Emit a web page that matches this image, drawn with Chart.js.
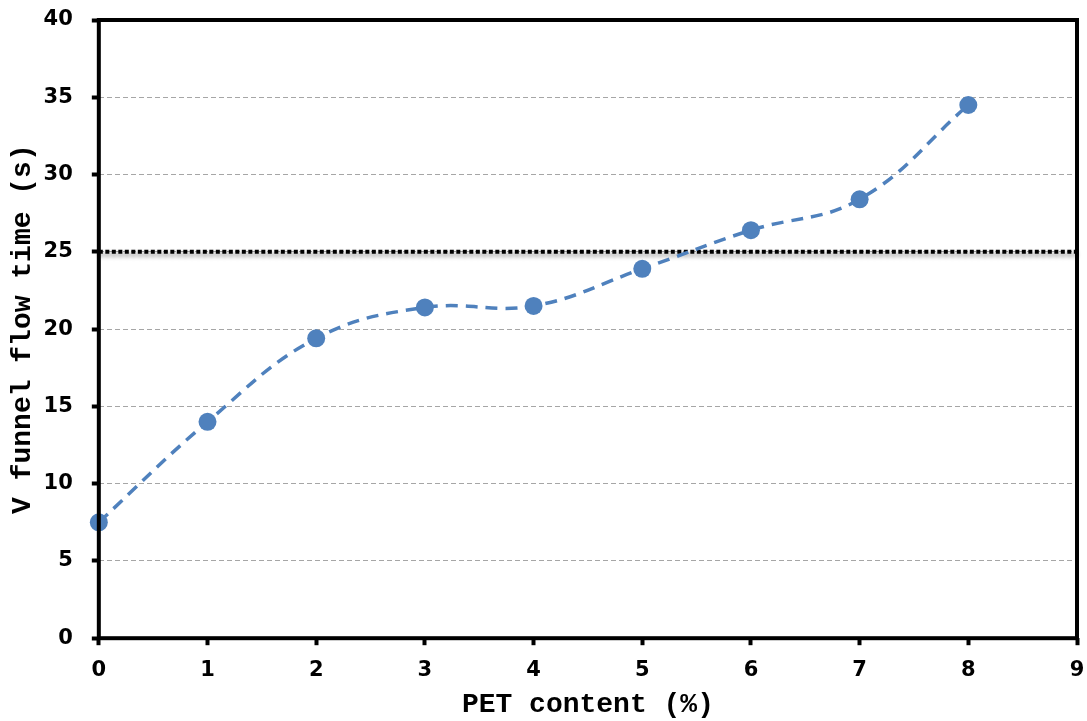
<!DOCTYPE html>
<html>
<head>
<meta charset="utf-8">
<script src="https://cdn.jsdelivr.net/npm/chart.js@4.4.1/dist/chart.umd.min.js"></script>
<style>
html,body{margin:0;padding:0;background:#fff;}
#wrap{width:1087px;height:721px;}
</style>
</head>
<body>
<div id="wrap"><canvas id="c" width="1087" height="721"></canvas></div>
<script>
const petContent = [0, 1, 2, 3, 4, 5, 6, 7, 8];
const flowTime = [7.5, 14.0, 19.4, 21.4, 21.5, 23.9, 26.4, 28.4, 34.5];
const limitX = [0, 9];
const limitY = [25, 25];
const xTitle = 'PET content (%)';
const yTitle = 'V funnel flow time (s)';

const frame = {
  id: 'frame',
  beforeDatasetDraw(chart, args) {
    if (args.index === 1) {
      const ctx = chart.ctx;
      ctx.save();
      ctx.shadowColor = 'rgba(0,0,0,0.45)';
      ctx.shadowBlur = 4;
      ctx.shadowOffsetY = 3;
    }
  },
  afterDatasetDraw(chart, args) {
    if (args.index === 1) chart.ctx.restore();
  },
  afterDraw(chart) {
    const {ctx, chartArea: a} = chart;
    ctx.save();
    ctx.strokeStyle = '#000';
    ctx.lineWidth = 4;
    ctx.strokeRect(a.left, a.top, a.right - a.left, a.bottom - a.top);
    ctx.restore();
  }
};

new Chart(document.getElementById('c'), {
  type: 'scatter',
  data: {
    datasets: [
      {
        data: petContent.map((x, i) => ({x, y: flowTime[i]})),
        showLine: true,
        borderColor: '#4f81bd',
        backgroundColor: '#4f81bd',
        borderWidth: 3.5,
        borderDash: [12, 8],
        tension: 0.4,
        pointRadius: 9,
        pointHoverRadius: 9,
        pointBorderWidth: 0,
        clip: false,
        order: 1
      },
      {
        data: limitX.map((x, i) => ({x, y: limitY[i]})),
        showLine: true,
        borderColor: '#000',
        borderWidth: 4,
        borderDash: [4, 2.5],
        borderCapStyle: 'butt',
        pointRadius: 0,
        tension: 0,
        clip: false,
        order: 2
      }
    ]
  },
  options: {
    responsive: false,
    animation: false,
    devicePixelRatio: 1,
    layout: {autoPadding: false, padding: {top: 0, right: 0, left: 0, bottom: 0}},
    plugins: {legend: {display: false}, tooltip: {enabled: false}},
    scales: {
      x: {
        type: 'linear', min: 0, max: 9,
        afterFit: s => { s.paddingRight = 10; },
        ticks: {stepSize: 1, color: '#000', padding: 13, font: {family: 'DejaVu Sans', size: 21, weight: 'bold'}},
        grid: {drawOnChartArea: false, drawTicks: true, tickLength: 7, tickWidth: 4, tickColor: '#000'},
        border: {display: false},
        title: {display: true, text: xTitle, color: '#000', padding: {top: -8, bottom: -1}, font: {family: 'Liberation Mono', size: 28, weight: 'bold'}}
      },
      y: {
        min: 0, max: 40,
        afterFit: s => { s.paddingTop = 20; },
        ticks: {stepSize: 5, color: '#000', padding: 19, font: {family: 'DejaVu Sans', size: 21, weight: 'bold'}},
        grid: {
          drawOnChartArea: true, drawTicks: true, tickLength: 7, tickWidth: 4, tickColor: '#000',
          tickBorderDash: [],
          color: ctx => (ctx.tick && (ctx.tick.value === 0 || ctx.tick.value === 40)) ? 'rgba(0,0,0,0)' : '#a6a6a6',
          lineWidth: 1
        },
        border: {display: false, dash: [5, 3]},
        title: {display: true, text: yTitle, color: '#000', padding: {top: 6, bottom: -15}, font: {family: 'Liberation Mono', size: 28, weight: 'bold'}}
      }
    }
  },
  plugins: [frame]
});
</script>
</body>
</html>
